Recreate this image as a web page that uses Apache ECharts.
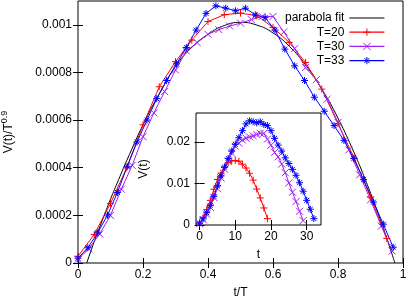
<!DOCTYPE html>
<html>
<head>
<meta charset="utf-8">
<script src="https://cdn.jsdelivr.net/npm/echarts@6/dist/echarts.min.js"></script>
<style>html,body{margin:0;padding:0;background:#fff}#c{width:407px;height:299px}</style>
</head>
<body>
<div id="c"></div>
<script>
// Durations of the three data sets
const T20 = 20, T30 = 30, T33 = 33;
// V(t) for t = 0,1,2,...
const V_T20 = [0.000415, 0.00178, 0.00371, 0.00593, 0.0086, 0.01097, 0.01253, 0.01387, 0.01503, 0.01545,
  0.01555, 0.01539, 0.01466, 0.01373, 0.01248, 0.01082, 0.00867, 0.00652, 0.00411, 0.00153];
const V_T30 = [0.00032, 0.00128, 0.0026, 0.00427, 0.00662, 0.00875, 0.01132, 0.01345, 0.01537, 0.0173,
  0.019, 0.01975, 0.0205, 0.02092, 0.02124, 0.0215, 0.02182, 0.0221, 0.0221, 0.02071,
  0.01922, 0.01751, 0.01644, 0.01469, 0.0126, 0.01014, 0.0079, 0.00566, 0.00331, 0.00107];
const V_T33 = [0.000465, 0.00149, 0.00295, 0.00468, 0.00689, 0.00944, 0.01182, 0.01396, 0.01605, 0.01782,
  0.01945, 0.02105, 0.02275, 0.02438, 0.02512, 0.02489, 0.02463, 0.02489, 0.02424, 0.02396,
  0.02275, 0.02089, 0.01926, 0.01782, 0.01619, 0.01482, 0.01342, 0.01198, 0.01019, 0.00814,
  0.00595, 0.00379, 0.00154];
// parabola fit (t/T, V/T^0.9)
const PARA_X = [0.027, 0.05, 0.075, 0.1, 0.125, 0.15, 0.2, 0.25, 0.3, 0.35, 0.4, 0.45, 0.5,
  0.55, 0.6, 0.65, 0.7, 0.75, 0.8, 0.85, 0.875, 0.9, 0.925, 0.95, 0.975];
const PARA_Y = [0, 0.00009, 0.00018, 0.000268, 0.00035, 0.00043, 0.00058, 0.00071, 0.000825, 0.000905, 0.00096, 0.000997, 0.00101,
  0.000999, 0.000966, 0.00091, 0.000832, 0.000731, 0.000608, 0.000462, 0.000381, 0.000294, 0.000202, 0.000104, 0];
// tick labels
const MAIN_X_TICKS = [0, 0.2, 0.4, 0.6, 0.8, 1];
const MAIN_Y_TICKS = [0, 0.0002, 0.0004, 0.0006, 0.0008, 0.001];
const INSET_X_TICKS = [0, 10, 20, 30];
const INSET_Y_TICKS = [0, 0.01, 0.02];
const SERIES_NAMES = ['parabola fit', 'T=20', 'T=30', 'T=33'];
const COLORS = ['#000000', '#ff0000', '#a020f0', '#0000ff'];

const FONT = "'Liberation Sans', Arial, Helvetica, sans-serif";
const SYM_PLUS = 'path://M0,5L10,5M5,0L5,10';
const SYM_CROSS = 'path://M0,0L10,10M10,0L0,10';
const SYM_STAR = 'path://M0,5L10,5M5,0L5,10M1.5,1.5L8.5,8.5M8.5,1.5L1.5,8.5';

function scaled(V, T) { return V.map((v, k) => [k / T, v / Math.pow(T, 0.9)]); }
function raw(V) { return V.map((v, k) => [k, v]); }
function fmt(v) { return String(parseFloat(Number(v).toPrecision(6))); }

function axis(gridIndex, pos, min, max, ticks, showLabels, extra) {
  return Object.assign({
    type: 'value', gridIndex: gridIndex, position: pos, min: min, max: max,
    axisLine: { show: false },
    splitLine: { show: false },
    axisTick: { show: true, inside: true, length: 5, customValues: ticks, lineStyle: { color: '#000', width: 1 } },
    axisLabel: { show: showLabels, customValues: ticks, formatter: fmt, color: '#000', fontSize: 12, fontFamily: FONT, margin: 6 }
  }, extra || {});
}

const chart = echarts.init(document.getElementById('c'), null, { renderer: 'canvas' });
const lineSeries = (name, data, sym, color, xi, yi) => ({
  name: name, type: 'line', data: data, xAxisIndex: xi, yAxisIndex: yi,
  symbol: sym, symbolSize: 7, showSymbol: true,
  lineStyle: { color: color, width: 1 },
  itemStyle: { color: color, borderColor: color, borderWidth: 1 },
  animation: false
});

chart.setOption({
  animation: false,
  backgroundColor: '#fff',
  textStyle: { fontFamily: FONT },
  grid: [
    { left: 78, top: 1, right: 4, bottom: 36, show: true, borderColor: '#000', borderWidth: 1, backgroundColor: 'transparent', outerBoundsMode: 'none', containLabel: false },
    { left: 196, top: 113, right: 86, bottom: 74, show: true, borderColor: '#000', borderWidth: 1, backgroundColor: 'transparent', outerBoundsMode: 'none', containLabel: false }
  ],
  legend: {
    data: [
      { name: SERIES_NAMES[0], itemStyle: { color: 'rgba(0,0,0,0)', borderColor: 'rgba(0,0,0,0)', borderWidth: 0 } },
      SERIES_NAMES[1], SERIES_NAMES[2], SERIES_NAMES[3]
    ],
    orient: 'vertical', right: 17, top: 7, align: 'right',
    itemWidth: 35, itemHeight: 9, itemGap: 2.2,
    itemStyle: { borderWidth: 1 },
    lineStyle: { width: 1.2 },
    textStyle: { fontSize: 12, color: '#000', fontFamily: FONT }
  },
  xAxis: [
    axis(0, 'bottom', 0, 1, MAIN_X_TICKS, true, { name: 't/T', nameLocation: 'middle', nameGap: 24, nameTextStyle: { fontSize: 12, color: '#000', fontFamily: FONT } }),
    axis(0, 'top', 0, 1, MAIN_X_TICKS, false),
    axis(1, 'bottom', -1, 34, INSET_X_TICKS, true, { name: 't', nameLocation: 'middle', nameGap: 24, nameTextStyle: { fontSize: 12, color: '#000', fontFamily: FONT } }),
    axis(1, 'top', -1, 34, INSET_X_TICKS, false)
  ],
  yAxis: [
    axis(0, 'left', 0, 0.0011, MAIN_Y_TICKS, true, {
      name: 'V(t)/T{sup|0.9}', nameLocation: 'middle', nameGap: 60, nameRotate: 90,
      nameTextStyle: { fontSize: 12, color: '#000', fontFamily: FONT, rich: { sup: { fontSize: 9, fontFamily: FONT, color: '#000', padding: [0, 0, 9, 0] } } }
    }),
    axis(0, 'right', 0, 0.0011, MAIN_Y_TICKS, false),
    axis(1, 'left', 0, 0.027, INSET_Y_TICKS, true, { name: 'V(t)', nameLocation: 'middle', nameGap: 46, nameRotate: 90, nameTextStyle: { fontSize: 12, color: '#000', fontFamily: FONT } }),
    axis(1, 'right', 0, 0.027, INSET_Y_TICKS, false)
  ],
  series: [
    { name: SERIES_NAMES[0], type: 'line', data: PARA_X.map((x, i) => [x, PARA_Y[i]]), xAxisIndex: 0, yAxisIndex: 0,
      symbol: 'circle', showSymbol: false, smooth: true, lineStyle: { color: COLORS[0], width: 1 },
      itemStyle: { color: 'rgba(0,0,0,0)', borderWidth: 0 } },
    lineSeries(SERIES_NAMES[1], scaled(V_T20, T20), SYM_PLUS, COLORS[1], 0, 0),
    lineSeries(SERIES_NAMES[2], scaled(V_T30, T30), SYM_CROSS, COLORS[2], 0, 0),
    lineSeries(SERIES_NAMES[3], scaled(V_T33, T33), SYM_STAR, COLORS[3], 0, 0),
    lineSeries(SERIES_NAMES[1], raw(V_T20), SYM_PLUS, COLORS[1], 2, 2),
    lineSeries(SERIES_NAMES[2], raw(V_T30), SYM_CROSS, COLORS[2], 2, 2),
    lineSeries(SERIES_NAMES[3], raw(V_T33), SYM_STAR, COLORS[3], 2, 2)
  ]
});
</script>
</body>
</html>
